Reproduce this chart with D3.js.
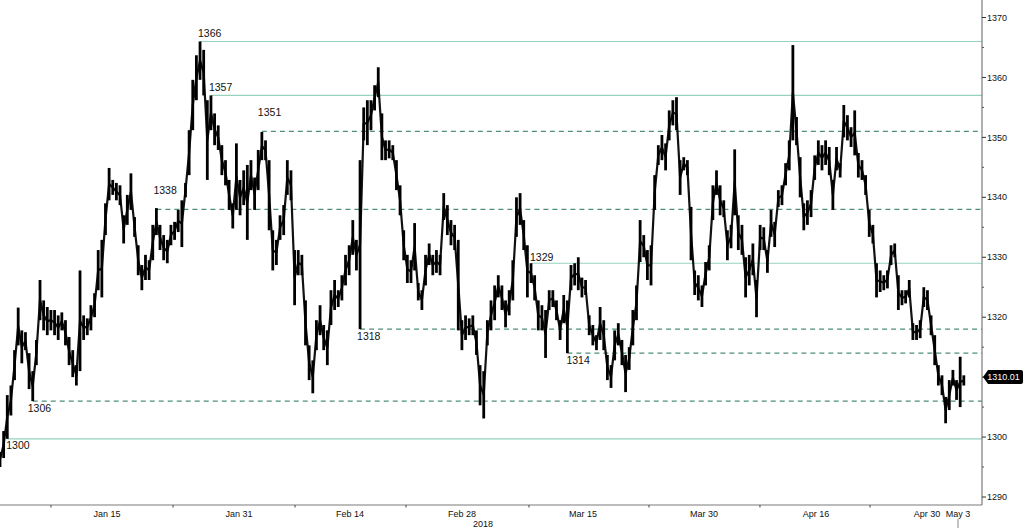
<!DOCTYPE html>
<html><head><meta charset="utf-8">
<script src="https://cdn.jsdelivr.net/npm/d3@7"></script>
<style>
body{margin:0;background:#fff}
svg{display:block}
text{font-family:"Liberation Sans",Arial,sans-serif}
</style>
</head><body>
<svg id="chart" width="1024" height="528"></svg>
<script>
// ---------- DATA ----------
// Gold spot, 8-hour bars (3 bars per trading day), counted from the first bar (Jan 2018 -> May 3 2018)
const barsPerDay = 3;
const barLow = [1295,1296.5,1299.7,1303.6,1309.5,1315.3,1312.3,1314.5,1308,1306,
1312,1319.5,1317.8,1317,1317.8,1317,1316.2,1317.8,1315.3,1312,
1310,1308.6,1311,1316.2,1317,1317.8,1320,1324.5,1323.3,1333.7,
1339.5,1340.4,1339.5,1338.7,1332.3,1335.4,1337.9,1333.4,1327,1324.5,
1326.2,1326.2,1329.5,1333.7,1331.2,1329.5,1329,1332,1332.9,1334.2,
1331.7,1340,1343.7,1351.2,1356.2,1359.6,1357,1342.9,1351.2,1348.7,
1347.9,1343.7,1342,1337.9,1334.8,1337.9,1337,1338.7,1332.9,1341.2,
1337.9,1341.2,1346.2,1346.2,1334.5,1327.8,1328.7,1332.9,1333.7,1340.4,
1339.5,1322,1327,1327,1315.3,1309.5,1307.3,1314.5,1317,1314.5,
1312,1318.7,1321.2,1321.7,1322.8,1325.3,1327,1330.4,1327.8,1318,
1349.5,1348.7,1351.2,1354.5,1356.7,1346.2,1346.2,1346.5,1346.2,1341.2,
1337,1329.5,1325.7,1325.7,1327.8,1322.8,1321.2,1325.3,1328.7,1327,
1327.4,1327,1336.2,1333.7,1332,1331.2,1317.8,1314.5,1316.2,1317,
1317,1313.7,1305.3,1303.1,1315.3,1317.8,1319.5,1323.3,1321.2,1318.3,
1320.3,1322.8,1333.4,1335.4,1331.2,1323.3,1325.7,1322.8,1317.8,1317.8,
1313.2,1321.2,1321.7,1319.5,1316.2,1319,1314,1324.5,1325.3,1324.5,
1323.3,1323.7,1317,1315.3,1314.5,1316.2,1314.5,1309.5,1308.2,1312.8,
1315.3,1312,1307.5,1311.2,1315.3,1319.5,1329.2,1330,1326.2,1325.3,
1337.9,1345.4,1346.2,1344.5,1349.5,1352,1351.2,1340.4,1344.5,1343.7,
1329.5,1323.7,1322.8,1321.7,1325.3,1327.8,1336.2,1340.4,1337,1336.7,
1329.5,1331.5,1337,1331.2,1330.4,1323.3,1325.3,1327,1320,1331.2,
1331.2,1327.4,1333.4,1331.7,1338.4,1338.7,1342,1344.5,1349.5,1348.7,
1340,1334.5,1335.4,1336.7,1342.9,1345.4,1344.5,1345.4,1343.7,1337.9,
1344.5,1343.3,1350,1349.5,1348.4,1347,1343.3,1342.9,1340.4,1333.4,
1332.3,1323.3,1324.2,1324.5,1324.8,1328.7,1330,1321.2,1322,1322.3,
1323.3,1316.2,1316.2,1316.5,1321.7,1321.2,1317,1312,1308.6,1307,
1302.3,1304.5,1308.6,1306.2,1305,1308.6];
const barHigh = [1297.5,1301,1307,1308.6,1314.5,1321.6,1317.8,1317.5,1314,1311,
1316.2,1326.2,1322.8,1321.7,1321.2,1321.2,1320.3,1320.8,1319.5,1316.7,
1314.5,1312,1327.8,1320.3,1319.8,1322,1324,1331.2,1332.9,1339,
1344.9,1342.9,1342.4,1342,1337,1340.4,1344,1336.7,1332,1328.7,
1330.4,1329.5,1335.4,1338.2,1335.4,1333.7,1332.9,1335.4,1335.9,1337.9,
1339.5,1342.4,1351.2,1359.6,1363.7,1366,1364.6,1356.2,1357,1354,
1352,1348.7,1346.2,1342.9,1339,1349,1342.9,1344.5,1345.4,1346.2,
1343.3,1347.9,1350.9,1349.5,1346.2,1334.5,1332.9,1337,1338.7,1346.2,
1344.5,1331.2,1331.2,1330.4,1322.8,1315.3,1312.8,1319.5,1322,1318.7,
1317.8,1324.5,1326.2,1324.5,1327,1330.4,1332,1336.2,1332.9,1346.2,
1355,1356.2,1356.2,1358.7,1361.7,1354,1349.5,1349.5,1348.7,1346.2,
1342,1334.5,1330.4,1329.5,1335.7,1325.7,1324.5,1330.4,1332.3,1330.4,
1331.2,1330.4,1340.7,1338.7,1336.2,1335.4,1332.9,1319.5,1320.3,1319.8,
1320.3,1317.8,1312,1311,1319.5,1322.8,1325.3,1327,1325.3,1322.8,
1324.5,1329.5,1340,1340.7,1336.2,1332,1329,1327,1322.8,1322,
1321.2,1324.5,1324.5,1322.8,1319.5,1323.7,1322.8,1328.7,1329,1330,
1326.6,1326.2,1320.3,1318.7,1317,1321.7,1319.5,1313.7,1312,1317.8,
1319,1316.2,1313.7,1315,1321.2,1325.3,1336.2,1333.7,1331.2,1332,
1343.7,1348.7,1350.4,1349,1354.5,1356.2,1356.7,1346.2,1346.7,1346.2,
1338.4,1327.8,1327,1325.3,1329.2,1332,1342,1344.5,1342,1339.5,
1334.5,1335.4,1348,1337,1335.4,1330,1330.4,1332.3,1326.2,1335.4,
1335,1331.2,1337.9,1335.9,1341.2,1342,1345.7,1349.5,1365.4,1353.4,
1346.7,1339,1339.5,1341.2,1347,1349.5,1348.7,1349.5,1348.4,1342.9,
1348.4,1345.7,1355.4,1353.7,1351.7,1354.5,1347.4,1346.2,1343.7,1337.9,
1335.4,1329,1327.8,1327,1327.8,1332,1332.3,1327,1324.5,1324.5,
1326.2,1319,1318.7,1319.5,1325,1324.5,1320.3,1317,1312,1310.3,
1306.7,1309.5,1311.2,1309.5,1313.4,1310.3];
const lastPrice = 1310.01;

// Support / resistance levels
const levelValues = [1366, 1357, 1351, 1338, 1329, 1318, 1314, 1306, 1299.7];
const levelLabels = ["1366", "1357", "1351", "1338", "1329", "1318", "1314", "1306", "1300"];
const levelStartBar = [55, 58, 72, 43, 146, 99, 156, 9, 2];
const levelKind = ["solid", "solid", "dashed", "dashed", "solid", "dashed", "dashed", "dashed", "solid"];

// Axis ticks
const yTickValues = [1290, 1300, 1310, 1320, 1330, 1340, 1350, 1360, 1370];
const yMinorValues = [1295, 1305, 1315, 1325, 1335, 1345, 1355, 1365];
const xTickLabels = ["Jan 15", "Jan 31", "Feb 14", "Feb 28", "Mar 15", "Mar 30", "Apr 16", "Apr 30", "May 3"];
const xTickDays = [9.81, 21.9, 32.08, 42.34, 53.43, 64.52, 74.79, 84.96, 87.8];
const xMinorDays = [4.67, 15.86, 27.04, 37.21, 48.48, 59.48, 69.65, 79.74];
const yearLabel = "2018";
const yearDay = 44.27;
const currentDay = 87.8;

// ---------- LAYOUT ----------
const W = 1024, H = 528;
const plotRight = 982, plotBottom = 505;
const svg = d3.select("#chart");
svg.append("rect").attr("width", W).attr("height", H).attr("fill", "#fff");

const x = d3.scaleLinear().domain([0, 90]).range([0, plotRight]);
const y = d3.scaleLinear().domain([1290, 1370]).range([497, 17.5]);
const barX = i => x(i / barsPerDay);

// level lines
const solidColor = "#96d2bc", dashColor = "#4f8e7b";
const labelOffset = {
  "1366": [-2, -4], "1357": [-2, -4], "1351": [-4, -15], "1338": [-3, -15],
  "1329": [-1, -2], "1318": [-3, 11], "1314": [-1, 11], "1306": [-5, 11], "1300": [-1, 10]
};
const lv = svg.append("g");
levelValues.forEach((v, k) => {
  const x0 = barX(levelStartBar[k]);
  lv.append("line")
    .attr("x1", x0).attr("x2", plotRight)
    .attr("y1", y(v)).attr("y2", y(v))
    .attr("stroke", levelKind[k] === "solid" ? solidColor : dashColor)
    .attr("stroke-width", 1.2)
    .attr("stroke-dasharray", levelKind[k] === "solid" ? null : "5,4");
});

// price bars
const data = barLow.map((lo, i) => ({i, lo, hi: barHigh[i]}));
const g = svg.append("g");
g.append("path")
  .datum(data)
  .attr("fill", "none")
  .attr("stroke", "#111")
  .attr("stroke-width", 2.2)
  .attr("stroke-linejoin", "round")
  .attr("d", d3.line().x(d => barX(d.i)).y(d => y((d.lo + d.hi) / 2)));
g.selectAll("line.bar").data(data).join("line")
  .attr("class", "bar")
  .attr("x1", d => barX(d.i)).attr("x2", d => barX(d.i))
  .attr("y1", d => y(d.hi)).attr("y2", d => y(d.lo))
  .attr("stroke", "#000")
  .attr("stroke-width", 2.8);

// level labels
levelValues.forEach((v, k) => {
  const off = labelOffset[levelLabels[k]];
  svg.append("text")
    .attr("x", barX(levelStartBar[k]) + off[0])
    .attr("y", y(v) + off[1])
    .attr("font-size", 10.5)
    .attr("fill", "#111")
    .text(levelLabels[k]);
});

// axes lines
svg.append("line").attr("x1", 0).attr("x2", plotRight).attr("y1", plotBottom).attr("y2", plotBottom)
  .attr("stroke", "#7a7a7a").attr("stroke-width", 1.2);
svg.append("line").attr("x1", plotRight).attr("x2", plotRight).attr("y1", 0).attr("y2", plotBottom)
  .attr("stroke", "#7a7a7a").attr("stroke-width", 1.2);

// right axis (the label hidden under the last-price tag is not drawn)
const ly = y(lastPrice);
const yAxis = svg.append("g");
yTickValues.forEach(v => {
  yAxis.append("line").attr("x1", plotRight).attr("x2", plotRight + 4)
    .attr("y1", y(v)).attr("y2", y(v)).attr("stroke", "#333");
  if (Math.abs(y(v) - ly) > 10) {
    yAxis.append("text").attr("x", plotRight + 5).attr("y", y(v)).attr("dy", "0.35em")
      .attr("font-size", 9).attr("fill", "#111").text(v);
  }
});
yMinorValues.forEach(v => {
  yAxis.append("line").attr("x1", plotRight).attr("x2", plotRight + 2)
    .attr("y1", y(v)).attr("y2", y(v)).attr("stroke", "#555");
});

// last price tag
svg.append("path")
  .attr("d", `M${plotRight + 1},${ly} L${plotRight + 6},${ly - 7} H1021 Q1023,${ly - 7} 1023,${ly - 5} V${ly + 5} Q1023,${ly + 7} 1021,${ly + 7} H${plotRight + 6} Z`)
  .attr("fill", "#000");
svg.append("text").attr("x", 1003.5).attr("y", ly).attr("dy", "0.35em")
  .attr("text-anchor", "middle").attr("font-size", 9).attr("fill", "#fff")
  .text(lastPrice.toFixed(2));

// bottom axis
const xAxis = svg.append("g");
xMinorDays.forEach(d => {
  xAxis.append("line").attr("x1", x(d)).attr("x2", x(d))
    .attr("y1", plotBottom).attr("y2", plotBottom + 2.5).attr("stroke", "#444");
});
xTickDays.forEach((d, k) => {
  xAxis.append("text").attr("x", x(d)).attr("y", 517)
    .attr("text-anchor", "middle").attr("font-size", 9).attr("fill", "#111")
    .text(xTickLabels[k]);
});
xAxis.append("text").attr("x", x(yearDay)).attr("y", 526.5)
  .attr("text-anchor", "middle").attr("font-size", 9).attr("fill", "#111").text(yearLabel);
xAxis.append("line").attr("x1", x(currentDay)).attr("x2", x(currentDay))
  .attr("y1", plotBottom + 14).attr("y2", H).attr("stroke", "#888");
</script>
</body></html>
